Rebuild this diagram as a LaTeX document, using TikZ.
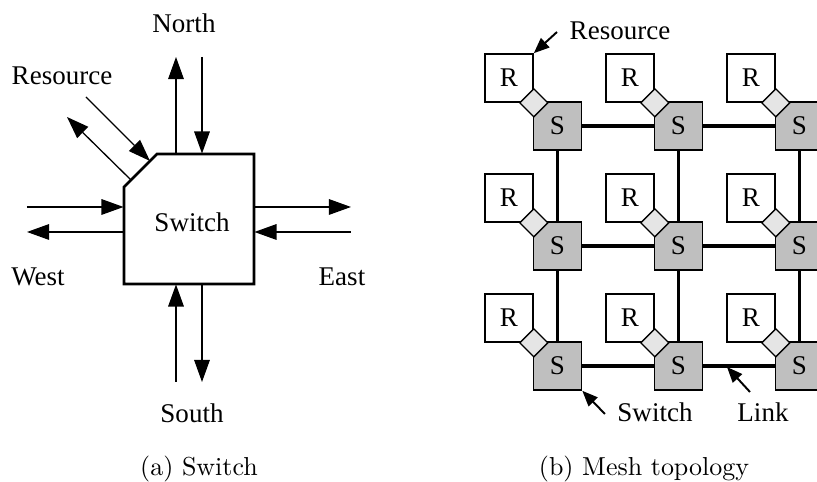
\documentclass[tikz,border=0pt]{standalone}
\usepackage{fontspec}
\newfontfamily\timesfont{Liberation Serif}
\usepackage{tikz}
\usetikzlibrary{shapes.geometric, arrows.meta}
\usepackage{xcolor}

\begin{document}
\begin{tikzpicture}[x=0.385pt, y=-0.385pt,
    every node/.style={font=\timesfont\fontsize{10.4}{12}\selectfont, inner sep=0pt},
    port/.style={line width=0.5pt, -{Triangle[length=8.5pt, width=6pt]}},
    pointer/.style={line width=0.75pt, -{Triangle[length=6pt, width=4.8pt]}},
    resbox/.style={draw, line width=0.6pt, fill=white, minimum size=18.5pt},
    swbox/.style={draw, line width=0.6pt, fill=black!25, minimum size=18.5pt},
    joint/.style={diamond, draw, line width=0.5pt, fill=black!10, minimum size=11pt},
    link/.style={line width=1.3pt}]
    \useasboundingbox (0,0) rectangle (817,482);

    % Switch block
    \node[minimum width=50pt, minimum height=50pt] (sw) at (189,219) {};
    \draw[line width=1pt] (124,187) -- (157,154) -- (254,154) -- (254,284) -- (124,284) -- cycle;
    \node (swlabel) at (192,222) {Switch};

    % Free ends of the ports
    \coordinate (nout) at (176,57);
    \coordinate (nin) at (202,57);
    \coordinate (sin) at (176,382);
    \coordinate (sout) at (202,382);
    \coordinate (win) at (27,207);
    \coordinate (wout) at (27,232);
    \coordinate (eout) at (351,207);
    \coordinate (ein) at (351,232);
    \coordinate (rin) at (86,97);
    \coordinate (rout) at (67,117);
    \coordinate (cin) at (150,161);
    \coordinate (cout) at (131,180);

    % Ports
    \draw[port] (sw.north -| nout) -- (nout);
    \draw[port] (nin) -- (sw.north -| nin);
    \draw[port] (sin) -- (sw.south -| sin);
    \draw[port] (sw.south -| sout) -- (sout);
    \draw[port] (win) -- (sw.west |- win);
    \draw[port] (sw.west |- wout) -- (wout);
    \draw[port] (sw.east |- eout) -- (eout);
    \draw[port] (ein) -- (sw.east |- ein);
    \draw[port] (rin) -- (cin);
    \draw[port] (cout) -- (rout);

    % Port labels
    \node (north) at (184,23) {North};
    \node (res) at (62,76) {Resource};
    \node (west) at (38,277) {West};
    \node (east) at (342,277) {East};
    \node (south) at (192,413) {South};

    % Mesh links
    \coordinate (c11) at (557.5,126);
    \coordinate (c12) at (678.5,126);
    \coordinate (c13) at (799.5,126);
    \coordinate (c21) at (557.5,246);
    \coordinate (c22) at (678.5,246);
    \coordinate (c23) at (799.5,246);
    \coordinate (c31) at (557.5,366);
    \coordinate (c32) at (678.5,366);
    \coordinate (c33) at (799.5,366);
    \draw[link] (c11) -- (c12) -- (c13);
    \draw[link] (c21) -- (c22) -- (c23);
    \draw[link] (c31) -- (c32) -- (c33);
    \draw[link] (c11) -- (c21) -- (c31);
    \draw[link] (c12) -- (c22) -- (c32);
    \draw[link] (c13) -- (c23) -- (c33);

    % Resources
    \node[resbox] (r11) at (509,78) {R};
    \node[resbox] (r12) at (630,78) {R};
    \node[resbox] (r13) at (751,78) {R};
    \node[resbox] (r21) at (509,198) {R};
    \node[resbox] (r22) at (630,198) {R};
    \node[resbox] (r23) at (751,198) {R};
    \node[resbox] (r31) at (509,318) {R};
    \node[resbox] (r32) at (630,318) {R};
    \node[resbox] (r33) at (751,318) {R};

    % Switches
    \node[swbox] (s11) at (c11) {S};
    \node[swbox] (s12) at (c12) {S};
    \node[swbox] (s13) at (c13) {S};
    \node[swbox] (s21) at (c21) {S};
    \node[swbox] (s22) at (c22) {S};
    \node[swbox] (s23) at (c23) {S};
    \node[swbox] (s31) at (c31) {S};
    \node[swbox] (s32) at (c32) {S};
    \node[swbox] (s33) at (c33) {S};

    % Joints between resource and switch
    \node[joint] (d11) at (r11.south east) {};
    \node[joint] (d12) at (r12.south east) {};
    \node[joint] (d13) at (r13.south east) {};
    \node[joint] (d21) at (r21.south east) {};
    \node[joint] (d22) at (r22.south east) {};
    \node[joint] (d23) at (r23.south east) {};
    \node[joint] (d31) at (r31.south east) {};
    \node[joint] (d32) at (r32.south east) {};
    \node[joint] (d33) at (r33.south east) {};

    % Mesh labels
    \node (mres) at (620,31) {Resource};
    \node (mswitch) at (655,412) {Switch};
    \node (mlink) at (763,412) {Link};
    \coordinate (restail) at (557,32);
    \coordinate (swtail) at (605,414);
    \coordinate (linktail) at (750,392);
    \coordinate (linkpt) at (727,367);
    \draw[pointer] (restail) -- (r11.north east);
    \draw[pointer] (swtail) -- (s31.south east);
    \draw[pointer] (linktail) -- (linkpt);

    % Captions
    \node[font=\normalfont\fontsize{10}{12}\selectfont] (capa) at (199,469) {(a) Switch};
    \node[font=\normalfont\fontsize{10}{12}\selectfont] (capb) at (644,469) {(b) Mesh topology};
\end{tikzpicture}
\end{document}
